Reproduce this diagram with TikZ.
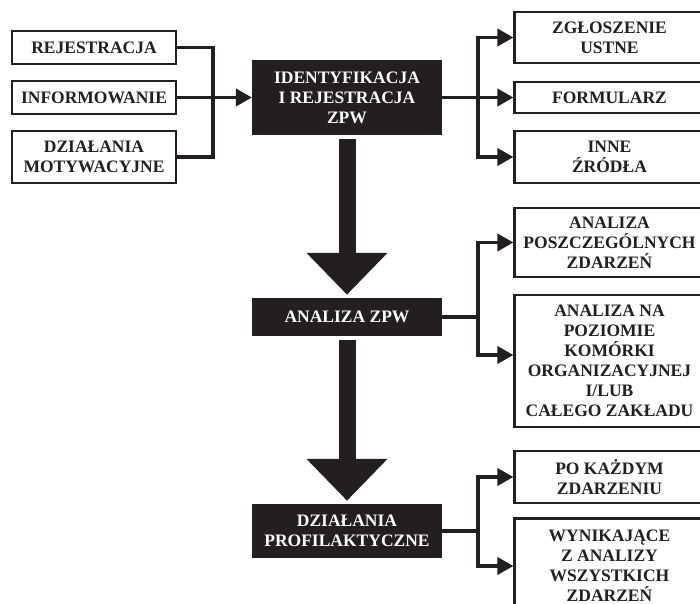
\documentclass[tikz,border=0pt]{standalone}
\usepackage{fontspec}
\setmainfont{Liberation Serif}
\usepackage{tikz}
\usetikzlibrary{arrows.meta}

\definecolor{ink}{RGB}{35,31,32}

\begin{document}
\begin{tikzpicture}[x=0.6pt, y=-0.6pt, >={Triangle[length=9.6pt, width=10.2pt]}, line join=miter,
		font=\fontsize{10.5}{12}\selectfont\bfseries,
		box/.style={draw=ink, line width=1.3pt, fill=white, text=ink, align=center, inner sep=0pt},
		lbox/.style={box, minimum width=98.4pt},
		rbox/.style={box, minimum width=114pt},
		dbox/.style={box, fill=ink, text=white, minimum width=112.8pt},
		link/.style={draw=ink, line width=2.2pt},
		big/.style={draw=ink, line width=10.2pt, -{Triangle[length=25pt, width=48.6pt, line width=0pt]}, shorten <=2.4pt, shorten >=2pt}]
		\useasboundingbox (0, 0) rectangle (700, 604);
		\clip (0, 0) rectangle (700, 604);
		
		% left column
		\node[lbox, minimum height=19.8pt] (rej) at (94, 47.5) {REJESTRACJA};
		\node[lbox, minimum height=19.8pt] (inf) at (94, 97.5) {INFORMOWANIE};
		\node[lbox, minimum height=31.2pt] (mot) at (94, 157) {DZIAŁANIA\\MOTYWACYJNE};
		
		% middle column
		\node[dbox, minimum height=43.8pt] (id) at (347, 97.5) {IDENTYFIKACJA\\I REJESTRACJA\\ZPW};
		\node[dbox, minimum height=21.6pt] (an) at (347, 317) {ANALIZA ZPW};
		\node[dbox, minimum height=31.2pt] (dp) at (347, 531) {DZIAŁANIA\\PROFILAKTYCZNE};
		
		% right column
		\node[rbox, minimum height=30.6pt] (zg) at (609.5, 37.5) {ZGŁOSZENIE\\USTNE};
		\node[rbox, minimum height=18.6pt] (fo) at (609.5, 97.5) {FORMULARZ};
		\node[rbox, minimum height=31.2pt] (inn) at (609.5, 157) {INNE\\ŹRÓDŁA};
		\node[rbox, minimum height=41.4pt] (po) at (609.5, 242.5) {ANALIZA\\POSZCZEGÓLNYCH\\ZDARZEŃ};
		\node[rbox, minimum height=79.2pt] (ko) at (609.5, 361) {ANALIZA NA\\POZIOMIE\\KOMÓRKI\\ORGANIZACYJNEJ\\I/LUB\\CAŁEGO ZAKŁADU};
		\node[rbox, minimum height=31.2pt] (pk) at (609.5, 477) {PO KAŻDYM\\ZDARZENIU};
		\node[rbox, minimum height=57pt] (wz) at (609.5, 566) {WYNIKAJĄCE\\Z ANALIZY\\WSZYSTKICH\\ZDARZEŃ};
		
		\coordinate (jl) at (213, 97.5);
		\coordinate (jr) at (478, 97.5);
		\coordinate (ja) at (478, 317);
		\coordinate (jd) at (478, 531);
		
		\draw[link] (rej.east) -| (jl) |- (mot.east);
		\draw[link, ->] (inf) -- (id);
		\draw[link, ->] (id) -- (fo);
		\draw[link, ->] (jr) |- (zg);
		\draw[link, ->] (jr) |- (inn);
		
		\draw[big] (id) -- (an);
		\draw[link] (an) -- (ja);
		\draw[link, ->] (ja) |- (po);
		\draw[link, ->] (ja) |- ([yshift=3.6pt]ko.west);
		
		\draw[big] (an) -- (dp);
		\draw[link] (dp) -- (jd);
		\draw[link, ->] (jd) |- (pk);
		\draw[link, ->] (jd) |- (wz);
\end{tikzpicture}
\end{document}
